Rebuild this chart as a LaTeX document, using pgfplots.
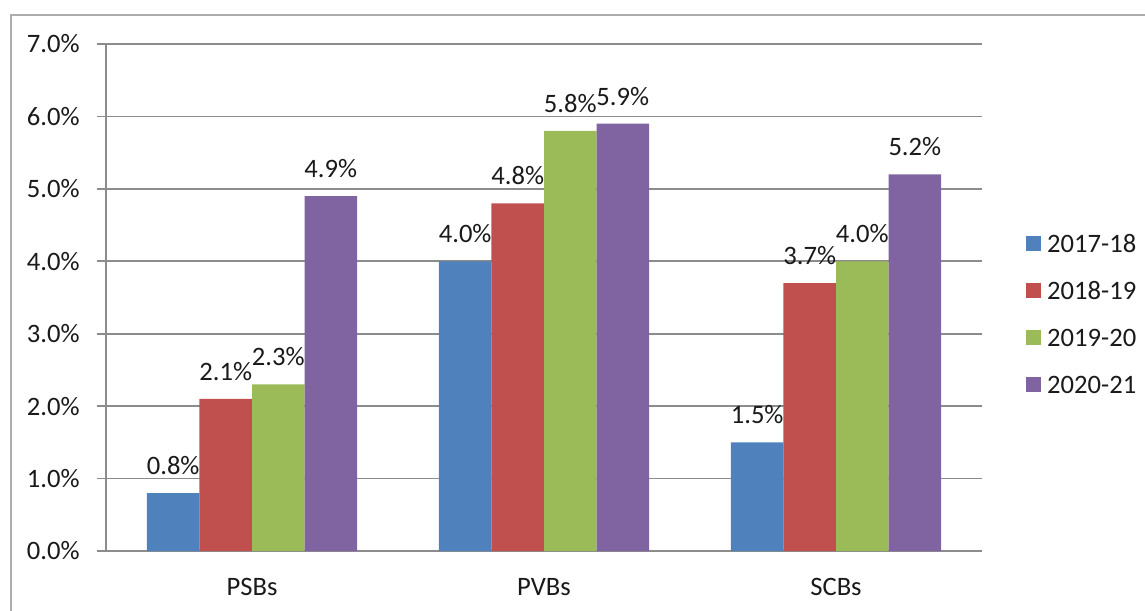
\documentclass[border=0pt]{standalone}
\usepackage{pgfplots}
\pgfplotsset{compat=1.18}
\usepackage{fontspec}
\setmainfont{Carlito}
\definecolor{cblue}{HTML}{4F81BD}
\definecolor{cred}{HTML}{C0504D}
\definecolor{cgreen}{HTML}{9BBB59}
\definecolor{cpurple}{HTML}{8064A2}
\definecolor{gridc}{HTML}{8C8C8C}
\definecolor{framec}{HTML}{ADADAD}
\definecolor{txt}{HTML}{1A1A1A}
\begin{document}
\begin{tikzpicture}
\useasboundingbox (0,0) rectangle (572.5pt,-305pt);
\draw[framec, line width=1pt] (5.5pt,-320pt) -- (5.5pt,-7.5pt) -- (590pt,-7.5pt);
\begin{axis}[
  at={(53pt,-275.5pt)}, anchor=south west,
  scale only axis, width=438pt, height=253.5pt,
  ybar=0pt, bar width=0.18,
  xmin=-0.5, xmax=2.5, ymin=0, ymax=7,
  xtick={0,1,2}, xticklabels={PSBs,PVBs,SCBs},
  ytick={0,1,2,3,4,5,6,7},
  axis x line=bottom, axis y line=left,
  axis line style={-, gridc, line width=0.8pt},
  ymajorgrids, major grid style={gridc, line width=0.8pt},
  major x tick style={draw=none},
  major y tick style={gridc, line width=0.8pt},
  tick align=outside, major tick length=4.5pt,
  /pgf/number format/assume math mode=true,
  yticklabel={\pgfmathprintnumber[fixed,fixed zerofill,precision=1]{\tick}\%},
  tick label style={font=\fontsize{13.3}{16}\selectfont, text=txt},
  yticklabel style={inner sep=0pt, xshift=-8.5pt},
  xticklabel style={inner sep=0pt, yshift=-9pt},
  nodes near coords={\pgfmathprintnumber[fixed,fixed zerofill,precision=1]{\pgfplotspointmeta}\%},
  nodes near coords style={font=\fontsize{13.3}{16}\selectfont, text=txt, inner sep=0pt, anchor=south, yshift=9pt},
  legend image code/.code={\fill[#1] (0pt,-3.75pt) rectangle (7.5pt,3.75pt); \path (10.5pt,0pt);},
  legend style={at={(1.05,0.625)}, anchor=north west, draw=none, fill=none,
    font=\fontsize{13.3}{16}\selectfont, text=txt, row sep=14.5pt, inner sep=0pt,
    nodes={inner sep=0pt, text height=9pt, text depth=0pt},
    cells={anchor=west}},
]
\addplot[fill=cblue, draw=none] coordinates {(0,0.8) (1,4.0) (2,1.5)};
\addplot[fill=cred, draw=none] coordinates {(0,2.1) (1,4.8) (2,3.7)};
\addplot[fill=cgreen, draw=none] coordinates {(0,2.3) (1,5.8) (2,4.0)};
\addplot[fill=cpurple, draw=none] coordinates {(0,4.9) (1,5.9) (2,5.2)};
\legend{2017-18,2018-19,2019-20,2020-21}
\end{axis}
\end{tikzpicture}
\end{document}
